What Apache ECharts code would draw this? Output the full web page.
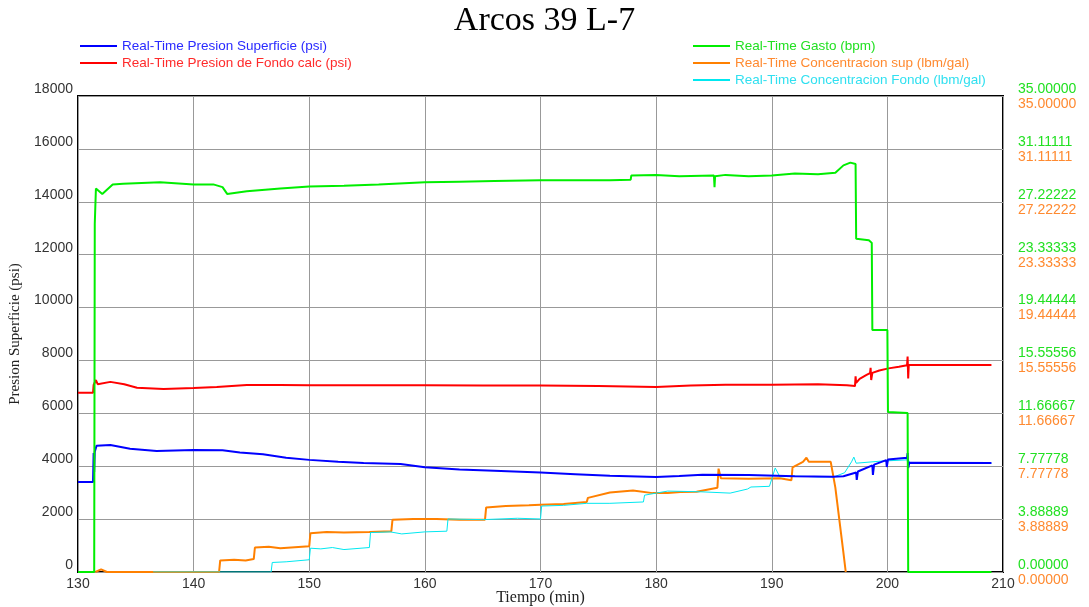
<!DOCTYPE html>
<html>
<head>
<meta charset="utf-8">
<script src="https://cdn.jsdelivr.net/npm/echarts@6/dist/echarts.min.js"></script>
<style>
  html, body { margin: 0; padding: 0; background: #fff; }
  #chart { width: 1089px; height: 607px; }
</style>
</head>
<body>
<div id="chart"></div>
<script>
// readings: [tiempo (min), valor]
const presionSup = [[130,3400],[131.3,3400],[131.35,4500],[131.4,3780],[131.45,4550],[131.6,4770],[132.8,4800],[134.5,4660],[136.8,4580],[140,4610],[142.5,4600],[144,4520],[146,4450],[148,4320],[150,4240],[152.5,4170],[154.7,4120],[157.9,4080],[160,3960],[163,3880],[166,3830],[170,3760],[173,3700],[176,3640],[180,3590],[182,3630],[184,3680],[188,3670],[192,3620],[195.3,3600],[196.2,3620],[197.3,3760],[197.35,3480],[197.45,3800],[198.7,4030],[198.75,3670],[198.85,4060],[199.9,4230],[199.95,3970],[200.05,4250],[201.7,4320],[201.75,4500],[201.8,3930],[201.9,4130],[209,4120]];

const presionFondo = [[130,6780],[131.3,6780],[131.35,7070],[131.55,7260],[131.7,7100],[132.8,7190],[134,7100],[135.1,6970],[137.4,6920],[140,6960],[142,7000],[144.6,7070],[147.5,7070],[150,7060],[155,7060],[160,7060],[165,7050],[170,7050],[175,7030],[180,7000],[183,7050],[186,7080],[190,7080],[194,7100],[196.5,7060],[197.2,7030],[197.25,7400],[197.3,7150],[197.6,7300],[198.2,7450],[198.5,7520],[198.55,7720],[198.6,7260],[198.7,7530],[199.3,7620],[200.1,7700],[201,7760],[201.7,7820],[201.75,8150],[201.8,7320],[201.85,7830],[209,7830]];

const gasto = [[130,0],[131.4,0],[131.45,25.6],[131.55,28.2],[132.1,27.8],[133,28.5],[133.9,28.55],[135.5,28.6],[137.1,28.65],[140,28.5],[141.7,28.5],[142.5,28.3],[142.9,27.8],[144.6,28.0],[147.5,28.2],[150,28.35],[153,28.4],[156,28.5],[160,28.65],[163,28.7],[166,28.75],[170,28.8],[173,28.8],[176,28.8],[177.8,28.85],[177.85,29.15],[180,29.2],[182,29.1],[185,29.15],[185.05,28.3],[185.1,29.1],[186,29.2],[188,29.1],[190,29.15],[192,29.3],[194,29.25],[195.5,29.35],[196.2,29.9],[196.8,30.1],[197.25,30.0],[197.3,24.5],[198.4,24.4],[198.65,24.2],[198.7,17.8],[200,17.8],[200.05,11.76],[201.75,11.7],[201.8,0],[209,0]];

const concSup = [[131.5,0],[132,0.2],[132.5,0],[142.2,0],[142.3,0.85],[143.5,0.9],[144.5,0.85],[145.2,0.95],[145.3,1.8],[146.5,1.85],[147.5,1.75],[150,1.9],[150.1,2.85],[151.5,2.95],[153,2.9],[155.2,2.95],[157.1,3.0],[157.2,3.85],[159,3.9],[161,3.9],[163,3.85],[165.2,3.85],[165.3,4.75],[167,4.85],[169,4.9],[170,4.95],[172,5.0],[174,5.15],[174.1,5.45],[176,5.85],[178,6.0],[179.7,5.8],[181,5.8],[182.1,5.88],[183.5,5.9],[185.3,6.2],[185.4,7.6],[185.6,6.9],[188,6.85],[190.7,6.9],[191.7,6.75],[191.8,7.7],[192.7,8.1],[193,8.4],[193.2,8.1],[195.1,8.1],[195.5,6.2],[196.2,1.4],[196.4,0]];

const concFondo = [[136.5,0],[146.7,0],[146.8,0.7],[148,0.75],[150,0.9],[150.1,1.75],[151,1.7],[152,1.8],[153,1.65],[155.2,1.8],[155.3,2.9],[157,2.95],[158,2.8],[160,2.95],[161.9,3.0],[162,3.9],[165,3.85],[168,3.95],[170,3.9],[170.1,4.85],[172,4.9],[174,5.05],[176,5.05],[178.9,5.15],[179,5.65],[181,5.95],[183.8,5.9],[186.4,5.8],[187.9,6.1],[188.2,6.25],[189.8,6.3],[190.3,7.65],[190.7,7.0],[192,7.05],[194,7.0],[195.4,7.0],[196.3,7.3],[196.9,8.1],[197.1,8.45],[197.3,8.0],[199.4,8.15],[201.8,8.25],[202,8.0],[209,8.0]];

const xTicks = { min: 130, max: 210, step: 10 };
const rightTicks = { min: 0, max: 35, step: 35 / 9 };

const serif = 'Liberation Serif';
const sans = 'Liberation Sans';

const chart = echarts.init(document.getElementById('chart'));
chart.setOption({
  animation: false,
  backgroundColor: '#fff',
  title: {
    text: 'Arcos 39 L-7',
    left: 'center',
    top: -1,
    textStyle: { fontFamily: serif, fontSize: 34, fontWeight: 'normal', color: '#000' }
  },
  legend: [
    {
      orient: 'vertical',
      left: 80, top: 39, padding: 0,
      icon: 'rect', itemWidth: 37, itemHeight: 2, itemGap: 3,
      textStyle: { fontFamily: sans, fontSize: 13.5, lineHeight: 14 },
      data: [
        { name: 'Real-Time Presion Superficie (psi)', textStyle: { color: '#2a2aff' } },
        { name: 'Real-Time Presion de Fondo calc (psi)', textStyle: { color: '#ff2a2a' } }
      ]
    },
    {
      orient: 'vertical',
      left: 693, top: 39, padding: 0,
      icon: 'rect', itemWidth: 37, itemHeight: 2, itemGap: 3,
      textStyle: { fontFamily: sans, fontSize: 13.5, lineHeight: 14 },
      data: [
        { name: 'Real-Time Gasto (bpm)', textStyle: { color: '#22e022' } },
        { name: 'Real-Time Concentracion sup (lbm/gal)', textStyle: { color: '#ff8a30' } },
        { name: 'Real-Time Concentracion Fondo (lbm/gal)', textStyle: { color: '#30e0f0' } }
      ]
    }
  ],
  grid: {
    left: 78, right: 86, top: 96, bottom: 35,
    outerBoundsMode: 'none',
    show: true, borderColor: '#000', borderWidth: 2
  },
  xAxis: {
    type: 'value',
    min: xTicks.min, max: xTicks.max, interval: xTicks.step,
    name: 'Tiempo (min)', nameLocation: 'middle', nameGap: 18, nameMoveOverlap: false,
    nameTextStyle: { fontFamily: serif, fontSize: 16, color: '#222' },
    axisLine: { show: false }, axisTick: { show: false },
    axisLabel: { fontFamily: sans, fontSize: 14, color: '#333', margin: 5 },
    splitLine: { show: true, lineStyle: { color: '#999', width: 1 } }
  },
  yAxis: [
    {
      type: 'value',
      min: 0, max: 18000, interval: 2000,
      name: 'Presion Superficie (psi)', nameLocation: 'middle', nameGap: 55, nameMoveOverlap: false,
      nameTextStyle: { fontFamily: serif, fontSize: 15, color: '#222' },
      axisLine: { show: false }, axisTick: { show: false },
      axisLabel: {
        fontFamily: sans, fontSize: 14, color: '#333', margin: 5, verticalAlign: 'bottom',
        formatter: v => String(v)
      },
      splitLine: { show: true, lineStyle: { color: '#999', width: 1 } }
    },
    {
      type: 'value', position: 'right',
      min: rightTicks.min, max: rightTicks.max, interval: rightTicks.step,
      axisLine: { show: false }, axisTick: { show: false }, splitLine: { show: false },
      axisLabel: {
        fontFamily: sans, fontSize: 14, color: '#22e022', margin: 15,
        verticalAlign: 'bottom',
        formatter: v => v.toFixed(5)
      }
    },
    {
      type: 'value', position: 'right',
      min: rightTicks.min, max: rightTicks.max, interval: rightTicks.step,
      axisLine: { show: false }, axisTick: { show: false }, splitLine: { show: false },
      axisLabel: {
        fontFamily: sans, fontSize: 14, color: '#ff8a30', margin: 15,
        verticalAlign: 'top', padding: [1, 0, 0, 0],
        formatter: v => v.toFixed(5)
      }
    }
  ],
  series: [
    {
      name: 'Real-Time Presion Superficie (psi)', type: 'line', yAxisIndex: 0,
      data: presionSup, showSymbol: false, color: '#0000ff',
      lineStyle: { width: 2 }, z: 4
    },
    {
      name: 'Real-Time Presion de Fondo calc (psi)', type: 'line', yAxisIndex: 0,
      data: presionFondo, showSymbol: false, color: '#ff0000',
      lineStyle: { width: 2 }, z: 3
    },
    {
      name: 'Real-Time Gasto (bpm)', type: 'line', yAxisIndex: 1,
      data: gasto, showSymbol: false, color: '#00ee00',
      lineStyle: { width: 2 }, z: 5
    },
    {
      name: 'Real-Time Concentracion sup (lbm/gal)', type: 'line', yAxisIndex: 2,
      data: concSup, showSymbol: false, color: '#ff8000',
      lineStyle: { width: 2 }, z: 2
    },
    {
      name: 'Real-Time Concentracion Fondo (lbm/gal)', type: 'line', yAxisIndex: 2,
      data: concFondo, showSymbol: false, color: '#00e8f0',
      lineStyle: { width: 1 }, z: 3
    }
  ]
});
</script>
</body>
</html>
